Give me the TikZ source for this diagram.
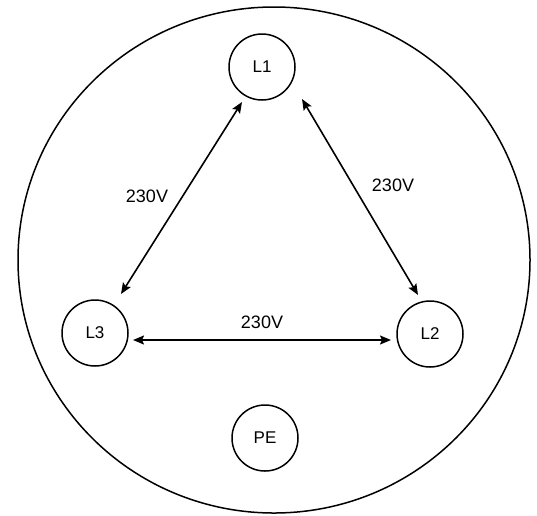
\documentclass[tikz,border=0pt]{standalone}
\usepackage{fontspec}
\setmainfont{Liberation Sans}
\usetikzlibrary{arrows.meta,calc}
\begin{document}
\begin{tikzpicture}[x=1pt,y=-1pt,
  pin/.style={circle,draw,line width=1.5pt,minimum size=66pt,inner sep=0pt,font=\fontsize{17}{20}\selectfont},
  volt/.style={line width=1.6pt,{Stealth[length=11pt,width=9pt,inset=2pt]}-{Stealth[length=11pt,width=9pt,inset=2pt]}},
  lbl/.style={font=\fontsize{18}{21}\selectfont,inner sep=0pt}]
\useasboundingbox (0,0) rectangle (537,515);
\draw[line width=1.5pt] (274,260) ellipse [x radius=256, y radius=253];
\node[pin] (L1) at (262,67) {L1};
\node[pin] (L3) at (95,333) {L3};
\node[pin] (L2) at (430,334) {L2};
\node[pin] (PE) at (265,438) {PE};
\draw[volt] ($(L1)+(-20,35)$) -- ($(L3)+(26,-39)$);
\draw[volt] ($(L1)+(40,32)$) -- ($(L2)+(-12,-39)$);
\draw[volt] ($(L3)+(38,7)$) -- ($(L2)+(-39,6)$);
\node[lbl] (v1) at (147,196) {230V};
\node[lbl] (v2) at (393,185) {230V};
\node[lbl] (v3) at (262,322) {230V};
\end{tikzpicture}
\end{document}
